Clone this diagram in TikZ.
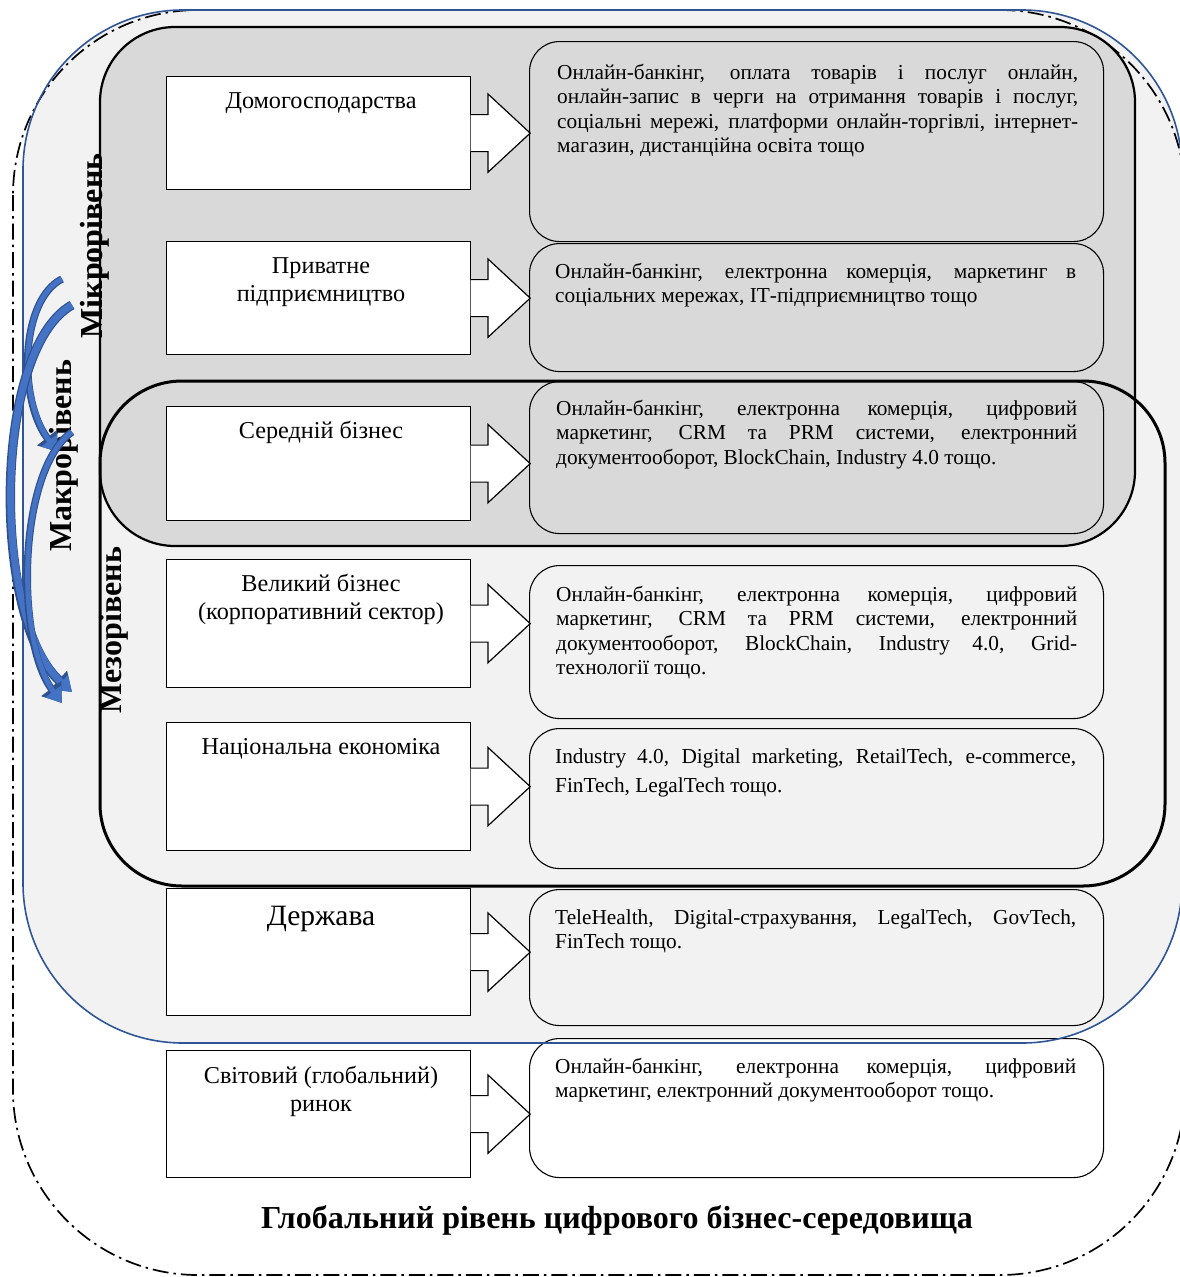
\documentclass[tikz,border=0pt]{standalone}
\usepackage{fontspec}
\setmainfont{Liberation Serif}
\usetikzlibrary{arrows.meta,calc}
\definecolor{microfill}{HTML}{D9D9D9}
\definecolor{macrofill}{HTML}{F2F2F2}
\definecolor{macroline}{HTML}{2F5597}
\definecolor{arrowblue}{HTML}{4472C4}
\definecolor{arrowdark}{HTML}{2F528F}
\newcommand\jl[1]{\hbox to \hsize{#1}}
\newcommand\lastl[1]{\hbox{#1}}
\newcommand\rtxt[1]{\parbox[t]{521pt}{\fontsize{21.3}{24.5}\selectfont #1}}
\newcommand\rtxtw[1]{\parbox[t]{521pt}{\fontsize{21.3}{29}\selectfont #1}}
\newcommand\ltxt[1]{\parbox[t]{300pt}{\centering\fontsize{24.2}{28.8}\selectfont #1}}
\newcommand\arrowpart[1]{%
  \path[arrowshape] ($(#1.east)+(-0.6,-18.5)$) -- ($(#1.east)+(16.7,-18.5)$) -- ($(#1.east)+(16.7,-39.2)$)
    -- ($(#1.east)+(59,0)$) -- ($(#1.east)+(16.7,39.2)$) -- ($(#1.east)+(16.7,18.5)$) -- ($(#1.east)+(-0.6,18.5)$);}
\newcommand\curvearrow[4]{% start, controls, end, width
  \draw[draw=arrowdark, line cap=butt, line width=#4+2.4, -{Triangle[width=24pt,length=18pt]}] #1 .. controls #2 .. #3;
  \draw[draw=arrowblue, line cap=butt, line width=#4, -{Triangle[width=19pt,length=14.5pt]}] #1 .. controls #2 .. #3;}
\begin{document}
\begin{tikzpicture}[x=1pt,y=-1pt,
  lbox/.style={draw=black, line width=1.2, fill=white, rectangle, inner sep=0, anchor=north west, minimum width=304},
  rbox/.style={draw=black, line width=1.1, rounded corners=30, rectangle, inner sep=0, anchor=north west, minimum width=574},
  arrowshape/.style={draw=black, line width=1.2, fill=white, line join=miter},
  txt/.style={inner sep=0},
  lvl/.style={rotate=90, font=\bfseries\fontsize{32}{34}\selectfont, inner sep=0}
]
\useasboundingbox (0,0) rectangle (1180,1277);
\clip (0,0) rectangle (1180,1277);
\fill[white] (0,0) rectangle (1180,1277);
% macro level
\fill[macrofill, rounded corners=160] (23,10) rectangle (1182,1043);
% global level
\draw[line width=1.7, dash pattern=on 16 off 5 on 2.5 off 5, rounded corners=185] (13,10) rectangle (1185,1275);
% micro level
\draw[fill=microfill, line width=2.2, rounded corners=75] (100,27) rectangle (1135,546);
% right boxes
\node[rbox, fill=microfill, minimum height=200] (R1) at (529,41) {};
\node[rbox, fill=microfill, minimum height=128] (R2) at (529,243) {};
\node[rbox, fill=microfill, minimum height=152] (R3) at (529,381) {};
\node[rbox, fill=macrofill, minimum height=153] (R4) at (529,565) {};
\node[rbox, fill=macrofill, minimum height=140] (R5) at (529,728) {};
\node[rbox, fill=macrofill, minimum height=136] (R6) at (529,889) {};
\node[rbox, fill=white, minimum height=139] (R7) at (529,1038) {};
% macro outline
\draw[macroline, line width=1.6, rounded corners=160] (23,10) rectangle (1182,1043);
% meso level
\draw[line width=3, rounded corners=82] (100,381) rectangle (1165,886);
% left boxes
\node[lbox, minimum height=113] (L1) at (166,76) {};
\node[lbox, minimum height=113] (L2) at (166,241) {};
\node[lbox, minimum height=114] (L3) at (166,406) {};
\node[lbox, minimum height=128] (L4) at (166,559) {};
\node[lbox, minimum height=128] (L5) at (166,722) {};
\node[lbox, minimum height=127] (L6) at (166,888) {};
\node[lbox, minimum height=127] (L7) at (166,1050) {};
\arrowpart{L1}\arrowpart{L2}\arrowpart{L3}\arrowpart{L4}\arrowpart{L5}\arrowpart{L6}\arrowpart{L7}
% left texts
\node[txt, anchor=base] (L1t) at (321,108) {\ltxt{Домогосподарства}};
\node[txt, anchor=base] (L2t) at (321,273) {\ltxt{Приватне\\підприємництво}};
\node[txt, anchor=base] (L3t) at (321,438) {\ltxt{Середній бізнес}};
\node[txt, anchor=base] (L4t) at (321,591) {\ltxt{Великий бізнес\\(корпоративний сектор)}};
\node[txt, anchor=base] (L5t) at (321,754) {\ltxt{Національна економіка}};
\node[txt, anchor=base, font=\fontsize{29.5}{33}\selectfont] (L6t) at (321,925) {Держава};
\node[txt, anchor=base] (L7t) at (321,1083) {\ltxt{Світовий (глобальний)\\ринок}};
% right texts
\node[txt, anchor=base west] (R1t) at (557,79) {\rtxt{%
\jl{Онлайн-банкінг, оплата товарів і послуг онлайн,}
\jl{онлайн-запис в черги на отримання товарів і послуг,}
\jl{соціальні мережі, платформи онлайн-торгівлі, інтернет-}
\lastl{магазин, дистанційна освіта тощо}}};
\node[txt, anchor=base west] (R2t) at (555,278) {\rtxt{%
\jl{Онлайн-банкінг, електронна комерція, маркетинг в}
\lastl{соціальних мережах, ІТ-підприємництво тощо}}};
\node[txt, anchor=base west] (R3t) at (556,415) {\rtxt{%
\jl{Онлайн-банкінг, електронна комерція, цифровий}
\jl{маркетинг, CRM та PRM системи, електронний}
\lastl{документооборот, BlockChain, Industry 4.0 тощо.}}};
\node[txt, anchor=base west] (R4t) at (556,601) {\rtxt{%
\jl{Онлайн-банкінг, електронна комерція, цифровий}
\jl{маркетинг, CRM та PRM системи, електронний}
\jl{документооборот, BlockChain, Industry 4.0, Grid-}
\lastl{технології тощо.}}};
\node[txt, anchor=base west] (R5t) at (555,763) {\rtxtw{%
\jl{Industry 4.0, Digital marketing, RetailTech, e-commerce,}
\lastl{FinTech, LegalTech тощо.}}};
\node[txt, anchor=base west] (R6t) at (555,924) {\rtxt{%
\jl{TeleHealth, Digital-страхування, LegalTech, GovTech,}
\lastl{FinTech тощо.}}};
\node[txt, anchor=base west] (R7t) at (555,1073) {\rtxt{%
\jl{Онлайн-банкінг, електронна комерція, цифровий}
\lastl{маркетинг, електронний документооборот тощо.}}};
% level labels
\node[lvl] (micro) at (95,246) {Мікрорівень};
\node[lvl] (macro) at (64,456) {Макрорівень};
\node[lvl] (meso) at (114,630) {Мезорівень};
% curved arrows
\coordinate (a1) at (62,279);
\coordinate (a2) at (58,452);
\coordinate (b1) at (72,305);
\coordinate (b2) at (72,692);
\coordinate (c1) at (72,432);
\coordinate (c2) at (62,703);
\curvearrow{(a1)}{(20,300) and (18,400)}{(a2)}{5}
\curvearrow{(b1)}{(-8,350) and (-8,620)}{(b2)}{7}
\curvearrow{(c1)}{(18,470) and (15,640)}{(c2)}{5}
% title
\node[txt, anchor=base, font=\bfseries\fontsize{32}{36}\selectfont] (title) at (617,1228) {Глобальний рівень цифрового бізнес-середовища};
\end{tikzpicture}
\end{document}
